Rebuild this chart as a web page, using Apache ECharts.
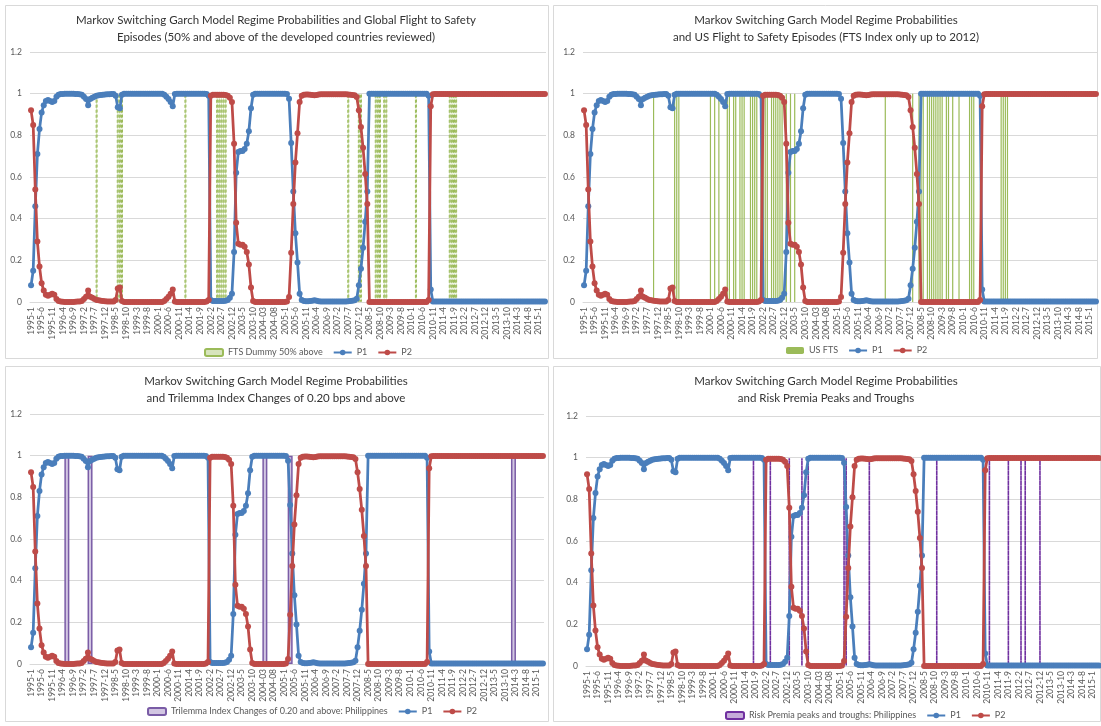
<!DOCTYPE html>
<html><head><meta charset="utf-8">
<script src="https://cdn.jsdelivr.net/npm/echarts@6/dist/echarts.min.js"></script>
<style>html,body{margin:0;padding:0;background:#fff}#c{width:1101px;height:726px}</style>
</head><body><div id="c"></div>
<script>
// ---- categories (monthly, 1995-1 .. 2015-4) ----
const startYear = 1995, nMonths = 244;
const months = [];
for (let i = 0; i < nMonths; i++) {
  const y = startYear + Math.floor(i / 12), m = i % 12 + 1;
  months.push(y + '-' + (y === 2004 ? String(m).padStart(2, '0') : m));
}
const yTicks = ['0', '0.2', '0.4', '0.6', '0.8', '1', '1.2'];

// ---- regime probabilities ----
const P1 = [
 0.08,0.15,0.46,0.71,0.83,0.91,0.945,0.965,0.97,0.965,0.96,0.965,
 0.985,0.995,0.998,0.999,1,1,1,1,1,0.999,0.998,0.997,
 0.995,0.985,0.975,0.945,0.975,0.98,0.985,0.99,0.992,0.994,0.995,0.996,
 0.997,0.997,0.998,0.998,0.99,0.935,0.93,0.995,1,1,1,1,
 1,1,1,1,1,1,1,1,1,1,1,1,
 1,1,1,0.995,0.985,0.975,0.96,0.94,0.998,1,1,1,
 1,1,1,1,1,1,1,1,1,1,1,0.998,
 0.99,0.01,0.005,0.005,0.005,0.005,0.005,0.005,0.006,0.01,0.02,0.04,
 0.24,0.62,0.72,0.725,0.725,0.735,0.76,0.82,0.93,0.995,1,1,
 1,1,1,1,1,1,1,1,1,1,1,1,
 1,0.998,0.976,0.763,0.53,0.33,0.19,0.04,0.01,0.005,0.004,0.004,
 0.005,0.006,0.008,0.006,0.004,0.003,0.003,0.003,0.003,0.003,0.003,0.003,
 0.003,0.003,0.003,0.003,0.003,0.003,0.004,0.005,0.006,0.008,0.016,0.08,
 0.16,0.26,0.385,0.53,1,1,1,1,1,1,1,1,
 1,1,1,1,1,1,1,1,1,1,1,1,
 1,1,1,1,1,1,1,1,0.99,0.06,0.003,0.002,
 0.002,0.002,0.002,0.002,0.002,0.002,0.002,0.002,0.002,0.002,0.002,0.002,
 0.002,0.002,0.002,0.002,0.002,0.002,0.002,0.002,0.002,0.002,0.002,0.002,
 0.002,0.002,0.002,0.002,0.002,0.002,0.002,0.002,0.002,0.002,0.002,0.002,
 0.002,0.002,0.002,0.002,0.002,0.002,0.002,0.002,0.002,0.002,0.002,0.002,
 0.002,0.002,0.002,0.002
];
const P2 = [
 0.92,0.85,0.54,0.29,0.17,0.09,0.055,0.035,0.03,0.035,0.04,0.035,
 0.015,0.005,0.002,0.001,0,0,0,0,0,0.001,0.002,0.003,
 0.005,0.015,0.025,0.055,0.025,0.02,0.015,0.01,0.008,0.006,0.005,0.004,
 0.003,0.003,0.002,0.002,0.01,0.065,0.07,0.005,0,0,0,0,
 0,0,0,0,0,0,0,0,0,0,0,0,
 0,0,0,0.005,0.015,0.025,0.04,0.06,0.002,0,0,0,
 0,0,0,0,0,0,0,0,0,0,0,0.002,
 0.01,0.99,0.995,0.995,0.995,0.995,0.995,0.995,0.994,0.99,0.98,0.96,
 0.76,0.38,0.28,0.275,0.275,0.265,0.24,0.18,0.07,0.005,0,0,
 0,0,0,0,0,0,0,0,0,0,0,0,
 0,0.002,0.024,0.237,0.47,0.67,0.81,0.96,0.99,0.995,0.996,0.996,
 0.995,0.994,0.992,0.994,0.996,0.997,0.997,0.997,0.997,0.997,0.997,0.997,
 0.997,0.997,0.997,0.997,0.997,0.997,0.996,0.995,0.994,0.992,0.984,0.92,
 0.84,0.74,0.615,0.47,0,0,0,0,0,0,0,0,
 0,0,0,0,0,0,0,0,0,0,0,0,
 0,0,0,0,0,0,0,0,0.01,0.94,0.997,0.998,
 0.998,0.998,0.998,0.998,0.998,0.998,0.998,0.998,0.998,0.998,0.998,0.998,
 0.998,0.998,0.998,0.998,0.998,0.998,0.998,0.998,0.998,0.998,0.998,0.998,
 0.998,0.998,0.998,0.998,0.998,0.998,0.998,0.998,0.998,0.998,0.998,0.998,
 0.998,0.998,0.998,0.998,0.998,0.998,0.998,0.998,0.998,0.998,0.998,0.998,
 0.998,0.998,0.998,0.998
];

// ---- episode dummies (months where the dummy equals 1) ----
const ftsGlobal = ['1997-8','1998-6','1998-7','1998-8','2001-2','2002-5','2002-6','2002-7','2002-8','2002-9',
  '2007-7','2007-12','2008-1','2008-8','2008-9','2008-10','2008-12','2009-1','2010-3',
  '2011-7','2011-8','2011-9','2011-10'];
const usFts = ['1997-10','1998-8','1998-9','1998-10','2000-1','2000-3','2000-5','2000-9','2000-10','2000-12',
  '2001-1','2001-3','2001-4','2001-5','2001-8','2001-9','2001-10','2001-11','2002-1','2002-2','2002-3',
  '2002-4','2002-6','2002-7','2002-8','2002-9','2002-10','2002-11','2003-1','2003-3','2003-5','2006-12',
  '2008-1','2008-4','2008-5','2008-6','2008-8','2008-9','2008-10','2008-11','2008-12','2009-1','2009-2',
  '2009-3','2009-5','2009-6','2009-8','2009-11','2010-4','2010-5','2010-6','2011-7','2011-8','2011-9','2011-10'];
const trilemma = ['1996-6','1997-5','2004-04','2005-4','2014-2'];
const riskPremia = ['2001-8','2002-4','2003-1','2003-7','2003-10','2005-3','2005-4','2006-3','2008-11',
  '2010-12','2011-9','2012-3','2012-5','2012-12'];

const dummy = list => months.map(m => list.indexOf(m) >= 0 ? 1 : '-');

const BLUE = '#4A7EBB', RED = '#BE4B48', GRID = '#D9D9D9', TXT = '#595959';
const FONT = 'Lato, "Open Sans", sans-serif';

const panels = [
  {left: 30, top: 52, width: 516, height: 250, box: [5, 5, 543, 353], tx: 276, ty: 12,
   title: 'Markov Switching Garch Model Regime Probabilities and Global Flight to Safety\nEpisodes (50% and above of the developed countries reviewed)',
   barName: 'FTS Dummy 50% above', bar: ftsGlobal, legLeft: 199, legTop: 343,
   barStyle: {barWidth: 2, itemStyle: {color: '#D7E4BD', borderColor: '#9BBB59', borderWidth: 1, borderType: [3, 2]}}},
  {left: 583, top: 52, width: 514, height: 250, box: [553, 5, 544, 353], tx: 826, ty: 12,
   title: 'Markov Switching Garch Model Regime Probabilities\nand US Flight to Safety Episodes (FTS Index only up to 2012)',
   barName: 'US FTS', bar: usFts, legLeft: 781, legTop: 341,
   barStyle: {barWidth: 1.2, itemStyle: {color: '#9BBB59'}}},
  {left: 30, top: 414, width: 514, height: 250, box: [5, 366, 543, 355], tx: 276, ty: 373,
   title: 'Markov Switching Garch Model Regime Probabilities\nand Trilemma Index Changes of 0.20 bps and above',
   barName: 'Trilemma Index Changes of 0.20 and above: Philippines', bar: trilemma, legLeft: 142, legTop: 702,
   barStyle: {barWidth: 5, itemStyle: {color: '#D2C6E2', borderColor: '#7A5CA6', borderWidth: 1.5}}},
  {left: 586, top: 416, width: 514, height: 250, box: [553, 366, 547, 355], tx: 826, ty: 373,
   title: 'Markov Switching Garch Model Regime Probabilities\nand Risk Premia Peaks and Troughs',
   barName: 'Risk Premia peaks and troughs: Philippines', bar: riskPremia, legLeft: 720, legTop: 706,
   barStyle: {barWidth: 1, itemStyle: {color: 'rgba(112,48,160,0.4)', borderColor: '#7030A0', borderWidth: 1.6, borderType: [3, 2]}}}
];

const option = {
  animation: false,
  backgroundColor: '#fff',
  textStyle: {fontFamily: FONT},
  grid: [], xAxis: [], yAxis: [], series: [], legend: [], graphic: []
};

panels.forEach((p, i) => {
  option.graphic.push({type: 'rect', shape: {x: p.box[0] + 0.5, y: p.box[1] + 0.5, width: p.box[2], height: p.box[3]},
    style: {fill: 'none', stroke: '#D9D9D9', lineWidth: 1}, silent: true});
  option.graphic.push({type: 'text', x: p.tx, y: p.ty, style: {text: p.title, align: 'center', fill: '#333333',
    font: '11.5px ' + FONT, lineHeight: 17}, silent: true});
  option.grid.push({left: p.left, top: p.top, width: p.width, height: p.height, containLabel: false});
  option.xAxis.push({type: 'category', gridIndex: i, data: months, boundaryGap: true,
    axisLine: {lineStyle: {color: GRID}}, axisTick: {show: false},
    axisLabel: {interval: 4, rotate: 90, fontSize: 8.5, color: TXT, margin: 5, fontFamily: FONT}});
  option.yAxis.push({type: 'value', gridIndex: i, min: 0, max: 1.2, interval: 0.2,
    axisLine: {show: false}, axisTick: {show: false},
    splitLine: {lineStyle: {color: GRID, width: 1}},
    axisLabel: {fontSize: 8.5, color: TXT, margin: 8, fontFamily: FONT,
      formatter: v => yTicks[Math.round(v / 0.2)]}});
  option.series.push(Object.assign({type: 'bar', name: p.barName, xAxisIndex: i, yAxisIndex: i,
    data: dummy(p.bar), z: 1}, p.barStyle));
  option.series.push({type: 'line', name: 'P1', xAxisIndex: i, yAxisIndex: i, data: P1,
    symbol: 'circle', symbolSize: 6, showAllSymbol: true,
    lineStyle: {width: 2.75, color: BLUE}, itemStyle: {color: BLUE}, z: 3});
  option.series.push({type: 'line', name: 'P2', xAxisIndex: i, yAxisIndex: i, data: P2,
    symbol: 'circle', symbolSize: 6, showAllSymbol: true,
    lineStyle: {width: 2.75, color: RED}, itemStyle: {color: RED}, z: 4});
  option.legend.push({data: [p.barName, 'P1', 'P2'], left: p.legLeft, top: p.legTop, itemWidth: 18, itemHeight: 7,
    itemGap: 10, textStyle: {fontSize: 9, color: TXT, fontFamily: FONT}, selectedMode: false});
});

echarts.init(document.getElementById('c'), null, {renderer: 'canvas'}).setOption(option);
</script></body></html>
